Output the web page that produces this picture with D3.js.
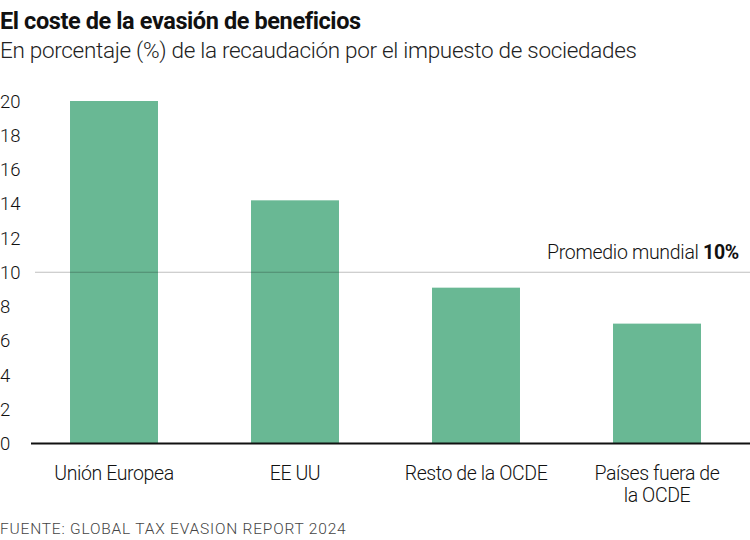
<!DOCTYPE html>
<html><head><meta charset="utf-8">
<script src="https://cdn.jsdelivr.net/npm/d3@7"></script>
<style>body{margin:0;background:#fff}svg{display:block}text{font-family:Roboto,"Liberation Sans",sans-serif}</style>
</head><body>
<script>
const categories = [["Unión Europea"], ["EE UU"], ["Resto de la OCDE"], ["Países fuera de", "la OCDE"]];
const values = [20, 14.2, 9.1, 7.0];
const yTicks = [0, 2, 4, 6, 8, 10, 12, 14, 16, 18, 20];
const average = 10;
const title = "El coste de la evasión de beneficios";
const subtitle = "En porcentaje (%) de la recaudación por el impuesto de sociedades";
const source = "FUENTE: GLOBAL TAX EVASION REPORT 2024";

const W = 750, H = 540;
const svg = d3.select("body").append("svg").attr("width", W).attr("height", H);

const x = d3.scaleBand().domain(d3.range(categories.length)).range([23.5, 747.5]).paddingInner(0.514).paddingOuter(0.257);
const y = d3.scaleLinear().domain([0, 20]).range([443.5, 101]);

svg.append("text").attr("x", 0).attr("y", 29).attr("font-size", 23.5).attr("font-weight", 700)
  .attr("letter-spacing", -0.4).attr("fill", "#111").text(title);
svg.append("text").attr("x", 0).attr("y", 58).attr("font-size", 22.5).attr("font-weight", 300)
  .attr("letter-spacing", -0.3).attr("fill", "#222").text(subtitle);

// y tick labels
svg.append("g").selectAll("text").data(yTicks).join("text")
  .attr("x", 0).attr("y", d => y(d) + 6.5).attr("font-size", 18.5).attr("font-weight", 300)
  .attr("fill", "#111").text(d => d);

// bars
svg.append("g").selectAll("rect").data(values).join("rect")
  .attr("x", (d, i) => x(i)).attr("width", x.bandwidth())
  .attr("y", d => y(d)).attr("height", d => y(0) - y(d))
  .attr("fill", "#69b894");

// average line
svg.append("line").attr("x1", 35).attr("x2", W).attr("y1", y(average)).attr("y2", y(average))
  .attr("stroke", "#000").attr("stroke-opacity", 0.25).attr("stroke-width", 1);
const avgT = svg.append("text").attr("x", 739).attr("y", 259).attr("text-anchor", "end")
  .attr("font-size", 19.5).attr("font-weight", 300).attr("letter-spacing", -0.3).attr("fill", "#111");
avgT.append("tspan").text("Promedio mundial ");
avgT.append("tspan").attr("font-weight", 700).text(average + "%");

// baseline
svg.append("line").attr("x1", 31).attr("x2", W).attr("y1", y(0)).attr("y2", y(0))
  .attr("stroke", "#111").attr("stroke-width", 2);

// category labels
const cl = svg.append("g").selectAll("text").data(categories).join("text")
  .attr("x", (d, i) => x(i) + x.bandwidth() / 2).attr("y", 480)
  .attr("text-anchor", "middle").attr("font-size", 19.5).attr("font-weight", 300)
  .attr("letter-spacing", -0.4).attr("fill", "#111");
cl.selectAll("tspan").data(d => d).join("tspan")
  .attr("x", function() { return this.parentNode.getAttribute("x"); })
  .attr("dy", (d, i) => i === 0 ? 0 : 22).text(d => d);

svg.append("text").attr("x", 0).attr("y", 534).attr("font-size", 15.5).attr("font-weight", 300)
  .attr("fill", "#444").attr("letter-spacing", 0.8).text(source);
</script>
</body></html>
